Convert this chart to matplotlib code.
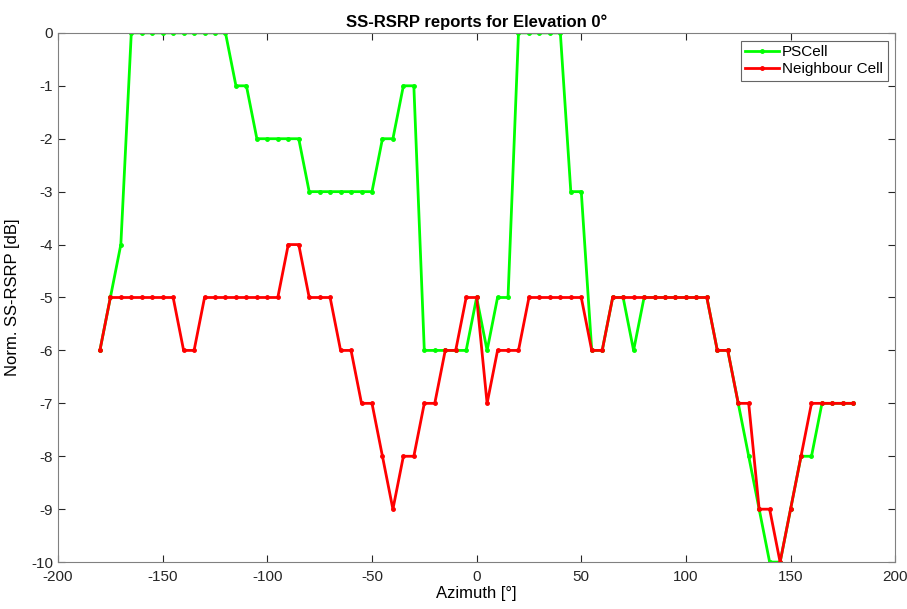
import matplotlib
matplotlib.use("Agg")
import matplotlib.pyplot as plt

azimuth = list(range(-180, 181, 5))

pscell = [
    -6, -5, -4, 0, 0, 0, 0, 0, 0, 0, 0, 0, 0, -1, -1, -2, -2, -2, -2, -2,
    -3, -3, -3, -3, -3, -3, -3, -2, -2, -1, -1, -6, -6, -6, -6, -6, -5, -6,
    -5, -5, 0, 0, 0, 0, 0, -3, -3, -6, -6, -5, -5, -6, -5, -5, -5, -5, -5,
    -5, -5, -6, -6, -7, -8, -9, -10, -10, -9, -8, -8, -7, -7, -7, -7,
]

neighbour = [
    -6, -5, -5, -5, -5, -5, -5, -5, -6, -6, -5, -5, -5, -5, -5, -5, -5, -5,
    -4, -4, -5, -5, -5, -6, -6, -7, -7, -8, -9, -8, -8, -7, -7, -6, -6, -5,
    -5, -7, -6, -6, -6, -5, -5, -5, -5, -5, -5, -6, -6, -5, -5, -5, -5, -5,
    -5, -5, -5, -5, -5, -6, -6, -7, -7, -9, -9, -10, -9, -8, -7, -7, -7, -7, -7,
]

x_ticks = [-200, -150, -100, -50, 0, 50, 100, 150, 200]
y_ticks = list(range(-10, 1))


def main():
    plt.rcParams["font.family"] = ["Liberation Sans", "DejaVu Sans"]
    plt.rcParams["axes.unicode_minus"] = False
    fig = plt.figure(figsize=(9.07, 6.09), dpi=100)
    ax = fig.add_axes([0.064, 0.077, 0.923, 0.869])

    ax.plot(azimuth, pscell, color="#00ff00", lw=2, marker=".", ms=5,
            label="PSCell")
    ax.plot(azimuth, neighbour, color="#ff0000", lw=2, marker=".", ms=5,
            label="Neighbour Cell")

    ax.set_xlim(-200, 200)
    ax.set_ylim(-10, 0)
    ax.set_xticks(x_ticks)
    ax.set_yticks(y_ticks)
    ax.tick_params(direction="in", top=True, right=True, labelsize=11,
                   colors="#262626", length=5)
    ax.tick_params(axis="x", pad=6)
    for s in ax.spines.values():
        s.set_color("#808080")

    ax.set_title("SS-RSRP reports for Elevation 0°", fontsize=12,
                 fontweight="bold", pad=4)
    ax.set_xlabel("Azimuth [°]", fontsize=12, labelpad=1)
    ax.set_ylabel("Norm. SS-RSRP [dB]", fontsize=12, labelpad=8)

    leg = ax.legend(loc="upper right", fontsize=11, fancybox=False,
                    borderaxespad=0.5, handlelength=2.2, handletextpad=0.2,
                    borderpad=0.3, labelspacing=0.2)
    leg.get_frame().set_edgecolor("#404040")
    leg.get_frame().set_linewidth(0.8)

    fig.savefig("out.png", dpi=100)


if __name__ == "__main__":
    main()
